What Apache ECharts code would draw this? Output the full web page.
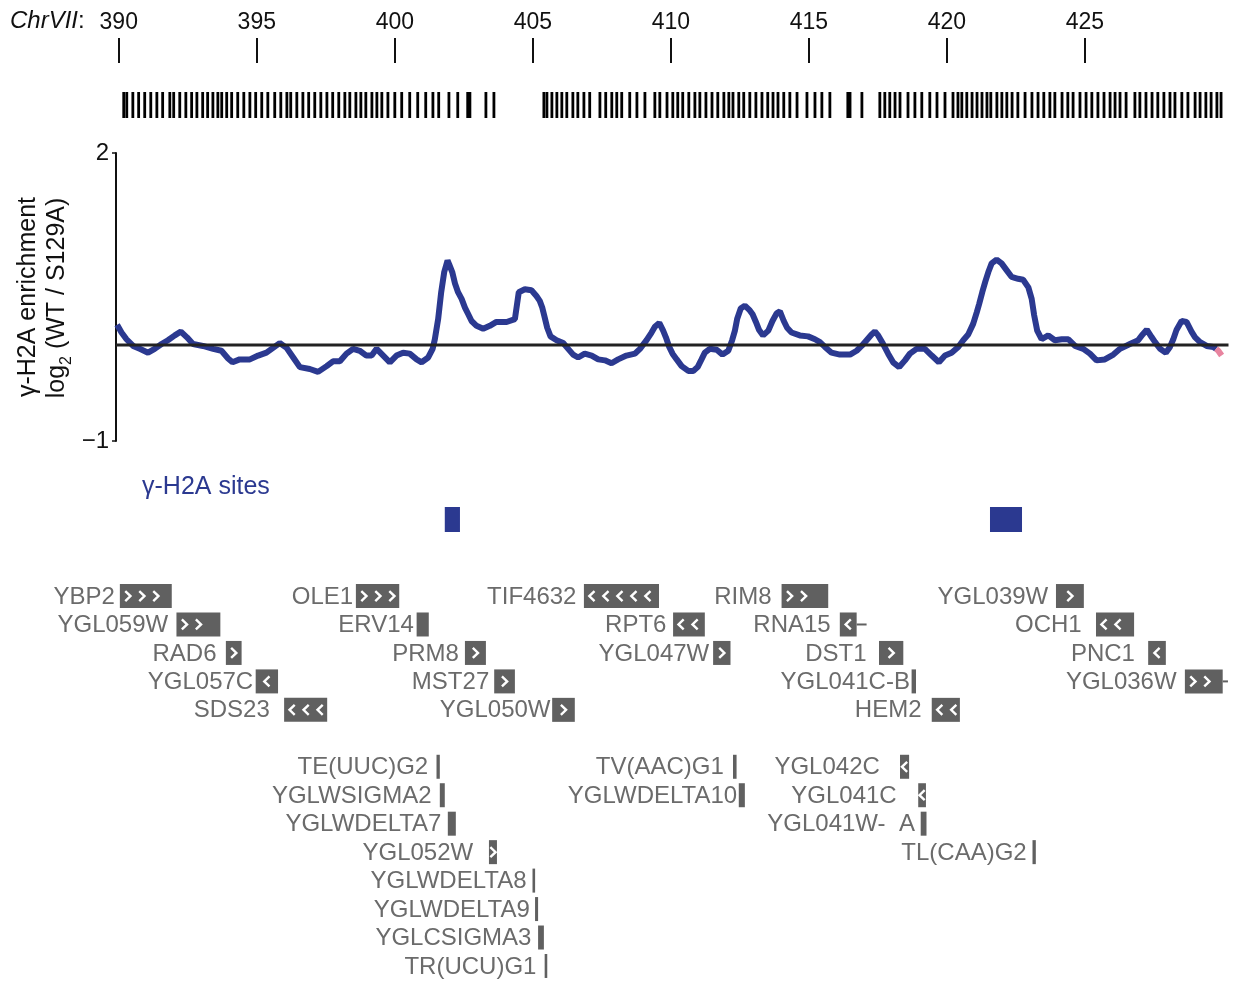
<!DOCTYPE html>
<html>
<head>
<meta charset="utf-8">
<script src="https://cdn.jsdelivr.net/npm/echarts@6/dist/echarts.min.js"></script>
<style>
  html, body { margin: 0; padding: 0; background: #fff; }
  #chart { width: 1233px; height: 983px; }
</style>
</head>
<body>
<div id="chart"></div>
<script>
// Chromosome VII coordinates, in kb
const rulerTicks = [390, 395, 400, 405, 410, 415, 420, 425];

// Microarray probe positions (kb)
const probePositions = [
  390.18, 390.29, 390.51, 390.72, 390.94, 391.16, 391.38, 391.59, 391.85, 391.99, 392.21, 392.43,
  392.64, 392.83, 393.04, 393.22, 393.41, 393.59, 393.73, 393.91, 394.09, 394.31, 394.53, 394.75,
  394.96, 395.18, 395.40, 395.65, 395.87, 396.09, 396.23, 396.45, 396.67, 396.88, 397.10, 397.32,
  397.54, 397.75, 397.97, 398.19, 398.37, 398.59, 398.77, 398.95, 399.17, 399.35, 399.53, 399.75,
  400.00, 400.25, 400.54, 400.83, 401.12, 401.38, 401.59, 401.96, 402.28, 402.64, 402.72, 403.30,
  403.59,
  405.40, 405.51, 405.69, 405.87, 406.05, 406.23, 406.45, 406.63, 406.85, 407.06, 407.43, 407.64,
  407.86, 408.04, 408.22, 408.51, 408.77, 409.06, 409.42, 409.60, 409.86, 410.07, 410.25, 410.43,
  410.65, 410.87, 411.05, 411.27, 411.49, 411.70, 411.92, 412.10, 412.25, 412.46, 412.64, 412.86,
  413.08, 413.30, 413.51, 413.70, 413.88, 414.09, 414.31, 414.57, 414.93, 415.22, 415.47, 415.76,
  416.41, 416.49, 416.92, 417.57, 417.75, 417.93, 418.12, 418.30, 418.59, 418.84, 419.09, 419.38,
  419.64, 419.93, 420.22, 420.40, 420.54, 420.72, 420.91, 421.09, 421.27, 421.45, 421.59, 421.81,
  421.99, 422.17, 422.36, 422.57, 422.83, 423.08, 423.30, 423.51, 423.73, 423.91, 424.17, 424.38,
  424.57, 424.82, 425.04, 425.25, 425.47, 425.69, 425.91, 426.09, 426.27, 426.49, 426.81, 426.99,
  427.21, 427.43, 427.64, 427.86, 428.08, 428.26, 428.51, 428.73, 428.99, 429.17, 429.38, 429.57,
  429.78, 429.93
];

// Smoothed gamma-H2A enrichment, log2(WT / S129A), [kb, value]
const enrichment = [
  [389.94,0.21],[390.10,0.13],[390.28,0.06],[390.52,-0.01],[390.76,-0.04],[391.06,-0.08],[391.30,-0.04],
  [391.55,0.01],[391.78,0.05],[392.03,0.10],[392.25,0.14],[392.47,0.08],[392.69,0.01],[393.05,-0.01],
  [393.42,-0.04],[393.72,-0.06],[393.96,-0.14],[394.12,-0.18],[394.38,-0.15],[394.75,-0.15],[395.05,-0.11],
  [395.35,-0.08],[395.59,-0.03],[395.83,0.02],[396.08,-0.03],[396.32,-0.13],[396.56,-0.23],[396.92,-0.25],
  [397.22,-0.28],[397.53,-0.22],[397.76,-0.17],[398.01,-0.17],[398.25,-0.09],[398.49,-0.04],[398.73,-0.06],
  [398.97,-0.11],[399.16,-0.11],[399.34,-0.04],[399.58,-0.11],[399.82,-0.18],[400.06,-0.11],[400.30,-0.08],
  [400.54,-0.09],[400.79,-0.15],[400.97,-0.18],[401.21,-0.13],[401.37,-0.04],[401.45,0.06],[401.57,0.27],
  [401.68,0.55],[401.79,0.76],[401.91,0.88],[401.97,0.84],[402.08,0.76],[402.18,0.64],[402.29,0.55],
  [402.42,0.48],[402.54,0.39],[402.66,0.32],[402.78,0.25],[402.96,0.20],[403.20,0.17],[403.44,0.20],
  [403.68,0.24],[404.05,0.24],[404.35,0.27],[404.49,0.55],[404.71,0.58],[404.95,0.57],[405.13,0.51],
  [405.25,0.46],[405.34,0.39],[405.41,0.31],[405.52,0.18],[405.64,0.09],[405.86,0.05],[406.10,0.02],
  [406.28,-0.04],[406.46,-0.10],[406.64,-0.13],[406.88,-0.09],[407.13,-0.11],[407.37,-0.15],[407.61,-0.16],
  [407.85,-0.19],[408.09,-0.15],[408.39,-0.11],[408.70,-0.09],[408.88,-0.04],[409.12,0.05],[409.30,0.13],
  [409.42,0.19],[409.58,0.23],[409.72,0.15],[409.82,0.08],[409.94,-0.02],[410.06,-0.09],[410.21,-0.15],
  [410.39,-0.22],[410.63,-0.27],[410.81,-0.27],[410.97,-0.23],[411.11,-0.15],[411.23,-0.08],[411.41,-0.04],
  [411.66,-0.05],[411.87,-0.10],[412.08,-0.06],[412.22,0.05],[412.32,0.15],[412.40,0.27],[412.53,0.38],
  [412.68,0.41],[412.86,0.36],[412.96,0.32],[413.08,0.24],[413.19,0.16],[413.34,0.10],[413.53,0.15],
  [413.68,0.25],[413.83,0.33],[413.95,0.35],[414.09,0.25],[414.21,0.18],[414.37,0.13],[414.67,0.10],
  [414.97,0.09],[415.22,0.06],[415.40,0.03],[415.58,-0.02],[415.82,-0.08],[416.12,-0.10],[416.49,-0.10],
  [416.73,-0.06],[416.91,-0.01],[417.09,0.05],[417.27,0.11],[417.39,0.14],[417.51,0.10],[417.69,0.01],
  [417.87,-0.09],[418.05,-0.18],[418.27,-0.23],[418.48,-0.16],[418.66,-0.09],[418.90,-0.04],[419.20,-0.04],
  [419.45,-0.11],[419.71,-0.18],[419.93,-0.11],[420.17,-0.08],[420.41,-0.02],[420.59,0.05],[420.77,0.11],
  [420.95,0.22],[421.08,0.34],[421.17,0.43],[421.28,0.55],[421.39,0.66],[421.50,0.76],[421.62,0.85],
  [421.80,0.89],[421.98,0.85],[422.16,0.78],[422.34,0.71],[422.58,0.69],[422.76,0.68],[422.95,0.60],
  [423.07,0.48],[423.16,0.31],[423.27,0.15],[423.43,0.06],[423.67,0.10],[423.91,0.05],[424.16,0.06],
  [424.40,0.06],[424.64,-0.01],[424.94,-0.04],[425.18,-0.09],[425.42,-0.16],[425.72,-0.15],[426.03,-0.10],
  [426.27,-0.04],[426.63,0.01],[426.93,0.05],[427.09,0.11],[427.24,0.16],[427.42,0.08],[427.54,0.03],
  [427.72,-0.04],[427.93,-0.08],[428.08,-0.02],[428.20,0.06],[428.32,0.16],[428.50,0.25],[428.68,0.24],
  [428.86,0.14],[428.99,0.08],[429.17,0.03],[429.41,-0.01],[429.65,-0.02],[429.75,-0.04]
];

// Last probes, flagged
const enrichmentTail = [[429.75,-0.04],[429.83,-0.06],[429.95,-0.11]];

// Called gamma-H2A sites, [start kb, end kb]
const siteRegions = [[401.81, 402.36], [421.56, 422.72]];

// Features: [name, start kb, end kb, row, strand (1 / -1 / 0), chevrons, label end kb, flank end kb]
const genes = [
  ['YBP2',        390.04, 391.92, 0,  1, 3, 389.86],
  ['OLE1',        398.59, 400.16, 0,  1, 3, 398.49],
  ['TIF4632',     406.85, 409.57, 0, -1, 5, 406.58],
  ['RIM8',        414.01, 415.70, 0,  1, 2, 413.65],
  ['YGL039W',     423.95, 424.96, 0,  1, 1, 423.67],
  ['YGL059W',     392.09, 393.68, 1,  1, 2, 391.79],
  ['ERV14',       400.79, 401.23, 1,  0, 0, 400.69],
  ['RPT6',        410.08, 411.23, 1, -1, 2, 409.84],
  ['RNA15',       416.12, 416.73, 1, -1, 1, 415.79, 417.09],
  ['OCH1',        425.40, 426.78, 1, -1, 2, 424.88],
  ['RAD6',        393.88, 394.45, 2,  1, 1, 393.54],
  ['PRM8',        402.54, 403.30, 2,  1, 1, 402.32],
  ['YGL047W',     411.53, 412.16, 2,  1, 1, 411.39],
  ['DST1',        417.54, 418.42, 2,  1, 1, 417.09],
  ['PNC1',        427.29, 427.93, 2, -1, 1, 426.81],
  ['YGL057C',     394.96, 395.77, 3, -1, 1, 394.87],
  ['MST27',       403.60, 404.35, 3,  1, 1, 403.42],
  ['YGL041C-B',   418.72, 418.88, 3,  0, 0, 418.66],
  ['YGL036W',     428.62, 429.99, 3,  1, 2, 428.32, 430.18],
  ['SDS23',       395.99, 397.55, 4, -1, 3, 395.47],
  ['YGL050W',     405.70, 406.52, 4,  1, 1, 405.64],
  ['HEM2',        419.45, 420.47, 4, -1, 2, 419.08],
  ['TE(UUC)G2',   401.51, 401.63, 6,  0, 0, 401.21],
  ['TV(AAC)G1',   412.25, 412.38, 6,  0, 0, 411.92],
  ['YGL042C',     418.30, 418.63, 6, -1, 1, 417.57],
  ['YGLWSIGMA2',  401.63, 401.81, 7,  0, 0, 401.33],
  ['YGLWDELTA10', 412.46, 412.68, 7,  0, 0, 412.40],
  ['YGL041C',     418.96, 419.24, 7, -1, 1, 418.18],
  ['YGLWDELTA7',  401.92, 402.21, 8,  0, 0, 401.69],
  ['YGL041W-  A', 419.05, 419.26, 8,  0, 0, 418.84],
  ['YGL052W',     403.41, 403.70, 9,  1, 1, 402.84],
  ['TL(CAA)G2',   423.10, 423.22, 9,  0, 0, 422.89],
  ['YGLWDELTA8',  404.99, 405.08, 10, 0, 0, 404.77],
  ['YGLWDELTA9',  405.08, 405.19, 11, 0, 0, 404.89],
  ['YGLCSIGMA3',  405.19, 405.40, 12, 0, 0, 404.95],
  ['TR(UCU)G1',   405.43, 405.52, 13, 0, 0, 405.13]
];

const X_MIN = 389.9, X_MAX = 430.2;
const FONT = '"Liberation Sans", Arial, Helvetica, sans-serif';
const BLUE = '#2b3990';
const PINK = '#e8849f';
const BOX = '#606060';
const LABEL = '#6b6b6b';
const ROWS = 14;

const gridDefs = [
  { top: 38,    height: 25 },   // coordinate ruler
  { top: 92,    height: 26 },   // probes
  { top: 153,   height: 288 },  // enrichment profile
  { top: 507,   height: 25 },   // gamma-H2A sites
  { top: 581.8, height: 398.4 } // gene annotation
];
const grid = gridDefs.map(g => ({ left: 116, right: 4.5, top: g.top, height: g.height, containLabel: false }));

const xAxis = gridDefs.map((g, i) => ({
  type: 'value', gridIndex: i, min: X_MIN, max: X_MAX, show: i === 0,
  position: 'top',
  axisLine: { show: false },
  axisTick: { show: false },
  axisLabel: { show: i === 0, customValues: rulerTicks, margin: 4,
               color: '#111', fontSize: 23, fontFamily: FONT },
  splitLine: { show: false }
}));

const yAxis = [
  { type: 'value', gridIndex: 0, show: false, min: 0, max: 1 },
  { type: 'value', gridIndex: 1, show: false, min: 0, max: 1 },
  { type: 'value', gridIndex: 2, min: -1, max: 2,
    axisLine: { show: true, lineStyle: { color: '#111', width: 2 } },
    axisTick: { show: true, customValues: [-1, 2], length: 4, lineStyle: { color: '#111', width: 1.5 } },
    axisLabel: { customValues: [-1, 2], margin: 7, color: '#111', fontSize: 24, fontFamily: FONT,
                 formatter: v => (v < 0 ? '\u2212' + Math.abs(v) : String(v)) },
    splitLine: { show: false } },
  { type: 'value', gridIndex: 3, show: false, min: 0, max: 1 },
  { type: 'value', gridIndex: 4, show: false, min: -0.5, max: ROWS - 0.5, inverse: true }
];

function chevron(cx, cy, dir) {
  const w = 2.6 * dir, h = 5;
  return { type: 'polyline', shape: { points: [[cx - w, cy - h], [cx + w, cy], [cx - w, cy + h]] },
           style: { stroke: '#fff', lineWidth: 2.4, fill: null, lineJoin: 'miter' } };
}

const series = [
  {
    type: 'custom', name: 'ruler', xAxisIndex: 0, yAxisIndex: 0,
    data: rulerTicks.map(t => [t, 0]),
    renderItem(params, api) {
      const x = Math.round(api.coord([api.value(0), 0])[0]);
      const cs = params.coordSys;
      return { type: 'rect', shape: { x: x - 1, y: cs.y, width: 2, height: cs.height },
               style: { fill: '#111' } };
    }
  },
  {
    type: 'custom', name: 'probes', xAxisIndex: 1, yAxisIndex: 1,
    data: probePositions.map(p => [p, 0]),
    renderItem(params, api) {
      const x = api.coord([api.value(0), 0])[0];
      const cs = params.coordSys;
      return { type: 'rect', shape: { x: x - 1.4, y: cs.y, width: 2.8, height: cs.height },
               style: { fill: '#000' } };
    }
  },
  {
    type: 'line', name: 'enrichment', xAxisIndex: 2, yAxisIndex: 2,
    data: enrichment, showSymbol: false, symbol: 'none',
    lineStyle: { color: BLUE, width: 6 }, z: 2
  },
  {
    type: 'line', name: 'tail', xAxisIndex: 2, yAxisIndex: 2,
    data: enrichmentTail, showSymbol: false, symbol: 'none',
    lineStyle: { color: PINK, width: 6 }, z: 2
  },
  {
    type: 'line', name: 'zero', xAxisIndex: 2, yAxisIndex: 2,
    data: [[X_MIN, 0], [X_MAX, 0]], showSymbol: false, symbol: 'none',
    lineStyle: { color: '#222', width: 3 }, z: 4, silent: true
  },
  {
    type: 'custom', name: 'sites', xAxisIndex: 3, yAxisIndex: 3,
    data: siteRegions,
    renderItem(params, api) {
      const x0 = api.coord([api.value(0), 0])[0];
      const x1 = api.coord([api.value(1), 0])[0];
      const cs = params.coordSys;
      return { type: 'rect', shape: { x: x0, y: cs.y, width: x1 - x0, height: cs.height },
               style: { fill: BLUE } };
    }
  },
  {
    type: 'custom', name: 'genes', xAxisIndex: 4, yAxisIndex: 4,
    data: genes.map(g => [g[1], g[3]]),
    renderItem(params, api) {
      const [name, start, end, row, strand, count, labelEnd, flankEnd] = genes[params.dataIndex];
      const p0 = api.coord([start, row]);
      const cy = p0[1];
      let x0 = p0[0];
      let x1 = api.coord([end, row])[0];
      if (x1 - x0 < 2.6) { const c = (x0 + x1) / 2; x0 = c - 1.3; x1 = c + 1.3; }
      const h = 24;
      const children = [];
      if (flankEnd) {
        const xf = api.coord([flankEnd, row])[0];
        children.push({ type: 'rect', shape: { x: x1, y: cy - 1, width: xf - x1, height: 2 }, style: { fill: BOX } });
      }
      children.push({ type: 'rect', shape: { x: x0, y: cy - h / 2, width: x1 - x0, height: h }, style: { fill: BOX } });
      if (count === 1) {
        children.push(chevron((x0 + x1) / 2, cy, strand));
      } else {
        for (let i = 0; i < count; i++) children.push(chevron(x0 + 8 + i * 14, cy, strand));
      }
      children.push({ type: 'text', x: api.coord([labelEnd, row])[0], y: cy + 1,
        style: { text: name, align: 'right', verticalAlign: 'middle', fill: LABEL,
                 font: '24px ' + FONT } });
      return { type: 'group', children };
    }
  }
];

const graphic = [
  { type: 'text', x: 10, y: 21,
    style: { text: '{i|ChrVII}:', verticalAlign: 'middle', fill: '#111', font: '24px ' + FONT,
             rich: { i: { fontStyle: 'italic', fontSize: 24, fontFamily: FONT, fill: '#111' } } } },
  { type: 'text', x: 28, y: 297, rotation: Math.PI / 2,
    style: { text: '\u03b3-H2A enrichment', align: 'center', verticalAlign: 'middle',
             fill: '#111', font: '25px ' + FONT } },
  { type: 'text', x: 57, y: 298, rotation: Math.PI / 2,
    style: { text: '{a|log}{s|2}{a| (WT / S129A)}', align: 'center', verticalAlign: 'middle', fill: '#111',
             rich: { a: { fontSize: 25, fontFamily: FONT, lineHeight: 30, verticalAlign: 'middle', fill: '#111' },
                     s: { fontSize: 16, fontFamily: FONT, lineHeight: 35, verticalAlign: 'bottom', fill: '#111' } } } },
  { type: 'text', x: 142, y: 487,
    style: { text: '\u03b3-H2A sites', verticalAlign: 'middle', fill: BLUE, font: '25px ' + FONT } }
];

const chart = echarts.init(document.getElementById('chart'), null, { renderer: 'canvas' });
chart.setOption({
  animation: false,
  backgroundColor: '#fff',
  grid, xAxis, yAxis, series, graphic
});
</script>
</body>
</html>
